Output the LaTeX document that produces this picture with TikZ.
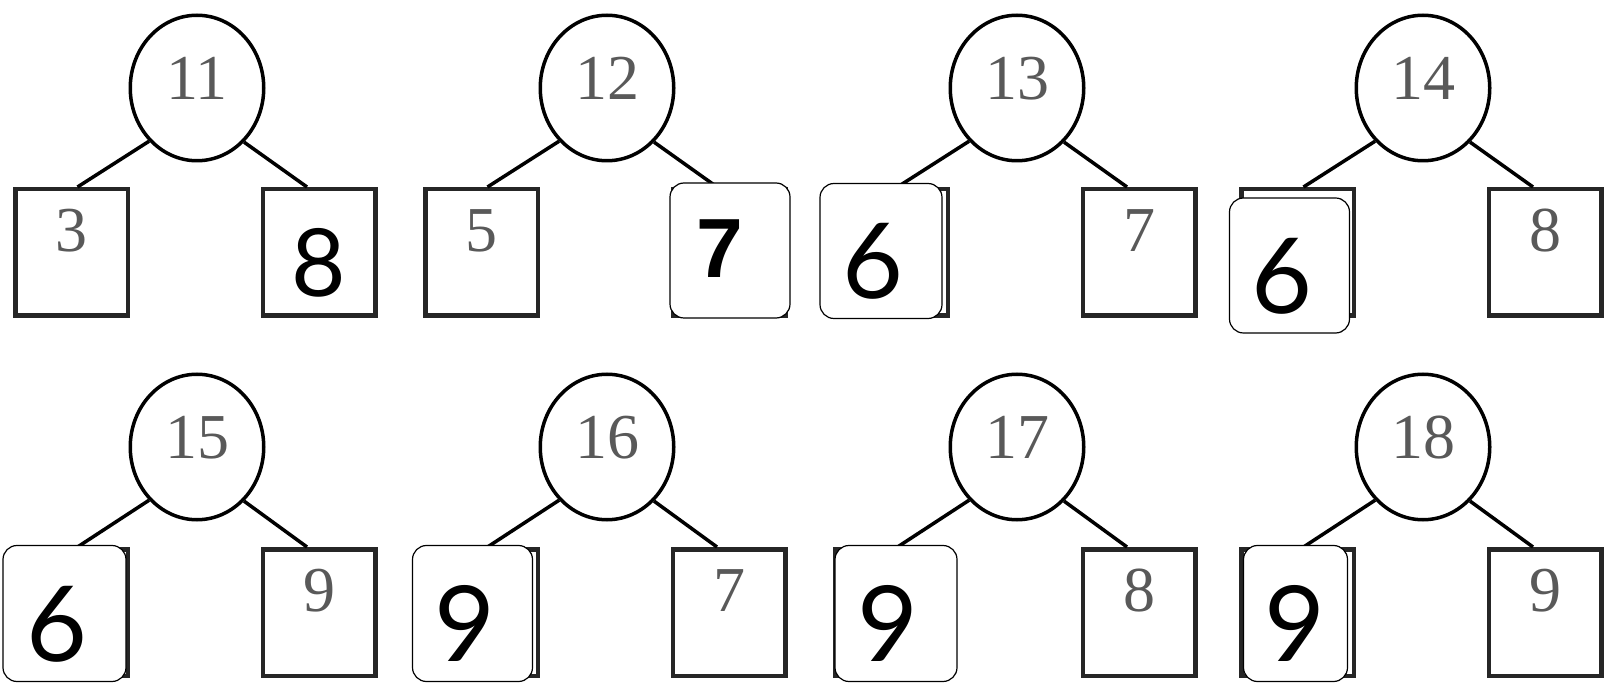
\documentclass[tikz,border=0pt]{standalone}
\usepackage{fontspec}
\setmainfont{Liberation Serif}
\newfontfamily\gillfont{Lato}
\newfontfamily\arialfont{Liberation Sans}
\usepackage{tikz}
\usetikzlibrary{shapes.geometric}

\definecolor{digitgray}{gray}{0.35}

\begin{document}
\begin{tikzpicture}[
    x=1pt, y=-1pt,
    root/.style={draw, ellipse, line width=3.5pt, minimum width=133.5pt, minimum height=145.5pt, inner sep=0pt, text=digitgray, font=\fontsize{64}{70}\selectfont, text depth=20pt},
    leaf/.style={draw=black!85, line width=4.5pt, minimum width=112.5pt, minimum height=126.5pt, inner sep=0pt, text=digitgray, font=\fontsize{64}{70}\selectfont, text depth=44pt},
    edge/.style={line width=3.5pt},
    answer/.style={draw, fill=white, rounded corners=14pt, line width=1.2pt, minimum width=120pt, minimum height=135pt, inner sep=0pt},
    bignum/.style={font=\gillfont\fontsize{105}{110}\selectfont, text=black, text depth=0pt, xshift=-8pt, yshift=-10pt},
    boldnum/.style={font=\arialfont\bfseries\fontsize{84}{90}\selectfont, text=black, text depth=0pt, xshift=-10pt, yshift=2pt},
]
\useasboundingbox (0,0) rectangle (1610,684);

% Row 1 -- trees 11 to 14
\node[root] (r11) at (197,88) {11};
\node[leaf] (l11a) at (71.5,252.5) {3};
\node[leaf, label={[bignum, xshift=8pt, font=\gillfont\fontsize{94}{100}\selectfont]center:8}] (l11b) at (319,252.5) {};

\node[root] (r12) at (607,88) {12};
\node[leaf] (l12a) at (481.5,252.5) {5};
\node[leaf] (l12b) at (729,252.5) {};

\node[root] (r13) at (1017,88) {13};
\node[leaf] (l13a) at (891.5,252.5) {};
\node[leaf] (l13b) at (1139,252.5) {7};

\node[root] (r14) at (1423,88) {14};
\node[leaf] (l14a) at (1297.5,252.5) {};
\node[leaf] (l14b) at (1545,252.5) {8};

% Row 2 -- trees 15 to 18
\node[root] (r15) at (197,447) {15};
\node[leaf] (l15a) at (71.5,612.5) {};
\node[leaf] (l15b) at (319,612.5) {9};

\node[root] (r16) at (607,447) {16};
\node[leaf] (l16a) at (481.5,612.5) {};
\node[leaf] (l16b) at (729,612.5) {7};

\node[root] (r17) at (1017,447) {17};
\node[leaf] (l17a) at (891.5,612.5) {};
\node[leaf] (l17b) at (1139,612.5) {8};

\node[root] (r18) at (1423,447) {18};
\node[leaf] (l18a) at (1297.5,612.5) {};
\node[leaf] (l18b) at (1545,612.5) {9};

% Edges -- lower rim of the root to both leaves
\draw[edge] (r11.228) -- ([xshift=6pt]l11a.north);
\draw[edge] (r11.311) -- ([xshift=-12pt]l11b.north);
\draw[edge] (r12.228) -- ([xshift=6pt]l12a.north);
\draw[edge] (r12.311) -- ([xshift=-12pt]l12b.north);
\draw[edge] (r13.228) -- ([xshift=6pt]l13a.north);
\draw[edge] (r13.311) -- ([xshift=-12pt]l13b.north);
\draw[edge] (r14.228) -- ([xshift=6pt]l14a.north);
\draw[edge] (r14.311) -- ([xshift=-12pt]l14b.north);
\draw[edge] (r15.228) -- ([xshift=6pt]l15a.north);
\draw[edge] (r15.311) -- ([xshift=-12pt]l15b.north);
\draw[edge] (r16.228) -- ([xshift=6pt]l16a.north);
\draw[edge] (r16.311) -- ([xshift=-12pt]l16b.north);
\draw[edge] (r17.228) -- ([xshift=6pt]l17a.north);
\draw[edge] (r17.311) -- ([xshift=-12pt]l17b.north);
\draw[edge] (r18.228) -- ([xshift=6pt]l18a.north);
\draw[edge] (r18.311) -- ([xshift=-12pt]l18b.north);

% Answer cards laid over the leaves
\node[answer, label={[boldnum]center:7}] (a12) at (730,250.5) {};
\node[answer, minimum width=122pt, label={[bignum]center:6}] (a13) at (881,251) {};
\node[answer, label={[bignum]center:6}] (a14) at (1289.5,265.5) {};
\node[answer, minimum width=123pt, minimum height=136pt, label={[bignum]center:6}] (a15) at (64.5,613.5) {};
\node[answer, minimum height=136pt, label={[bignum]center:9}] (a16) at (472.5,613.5) {};
\node[answer, minimum width=122pt, minimum height=136pt, label={[bignum]center:9}] (a17) at (896,613.5) {};
\node[answer, minimum width=104pt, minimum height=136pt, label={[bignum, xshift=7pt]center:9}] (a18) at (1295.5,613.5) {};

\end{tikzpicture}
\end{document}
